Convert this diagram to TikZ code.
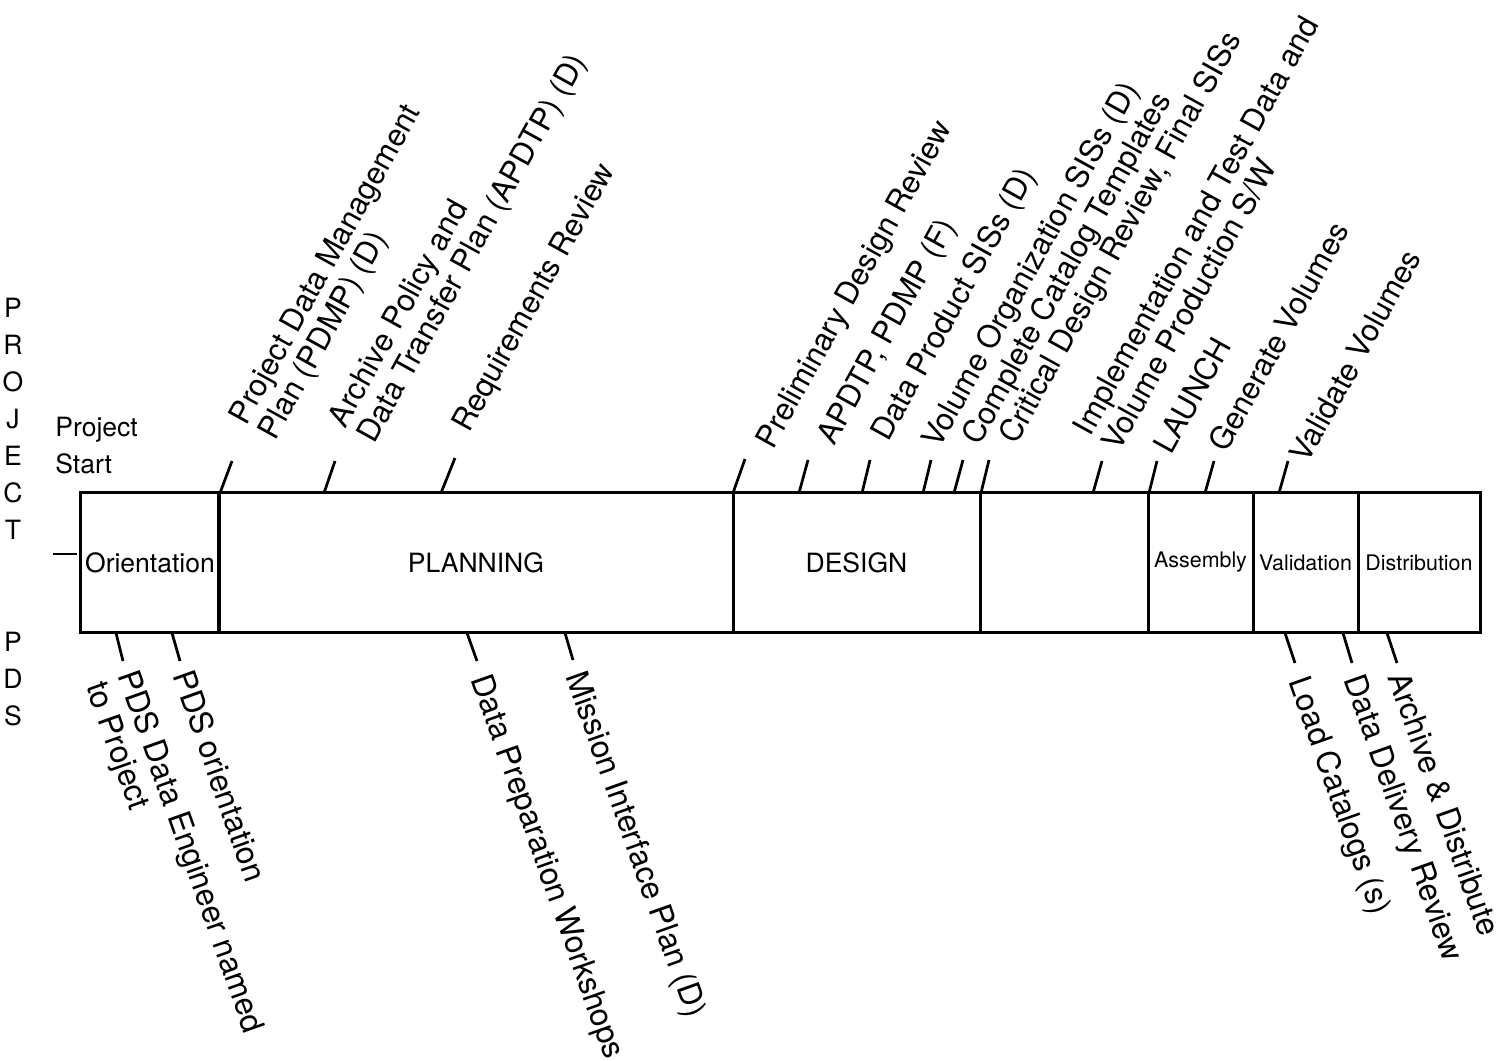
\documentclass[tikz,border=0pt]{standalone}
\usepackage{fontspec}
\setmainfont{TeX Gyre Heros}
\begin{document}
\begin{tikzpicture}[x=0.2mm, y=-0.2mm,
  phase/.style={shape=rectangle, draw=black, line width=0.6mm, inner sep=0pt, minimum height=27.8mm, font=\fontsize{15.1}{18}\selectfont},
  smallphase/.style={font=\fontsize{12.2}{14}\selectfont},
  tick/.style={line width=0.55mm},
  toplbl/.style={rotate=61, anchor=south west, inner sep=0pt, align=left, font=\fontsize{17.6}{18.5}\selectfont, execute at end node=\strut},
  botlbl/.style={rotate=-70.5, anchor=north west, inner sep=0pt, align=left, font=\fontsize{18}{19}\selectfont, execute at end node=\strut},
  side/.style={inner sep=0pt, font=\fontsize{15.1}{21}\selectfont}]
\useasboundingbox (0,0) rectangle (1508,1061);
% phases
\node[phase, minimum width=27.6mm] (orient) at (150,562.5) {Orientation};
\node[phase, minimum width=102.8mm] (plan) at (476,562.5) {PLANNING};
\node[phase, minimum width=49.4mm] (design) at (856.5,562.5) {DESIGN};
\node[phase, minimum width=33.6mm] (impl) at (1064,562.5) {};
\node[phase, smallphase, minimum width=21mm] (assembly) at (1200.5,562.5) {Assembly};
\node[phase, smallphase, minimum width=21mm] (valid) at (1305.5,562.5) {Validation};
\node[phase, smallphase, minimum width=24.4mm] (distr) at (1419,562.5) {Distribution};
% left side
\node[side, anchor=north, align=center] (proj) at (13,298) {P\\R\\O\\J\\E\\C\\T};
\node[side, anchor=north, align=center] (pds) at (13,632) {P\\D\\S};
\node[side, anchor=north west, align=left] (start) at (55,417) {Project\\Start};
\coordinate (s1) at (53,554);
\coordinate (s2) at (77,554);
\path [tick] (s1) edge (s2);
% project milestones
\coordinate (a1) at (220,493);
\coordinate (a1e) at (232,461);
\node[toplbl] (l1) at (284,447) {Project Data Management\\Plan (PDMP) (D)};
\coordinate (a2) at (324,493);
\coordinate (a2e) at (335,461);
\node[toplbl] (l2) at (383,450) {Archive Policy and\\Data Transfer Plan (APDTP) (D)};
\coordinate (a3) at (441,493);
\coordinate (a3e) at (455,458);
\node[toplbl] (l3) at (478,439) {Requirements Review};
\coordinate (a4) at (733,493);
\coordinate (a4e) at (745,459);
\node[toplbl] (l4) at (782,456) {Preliminary Design Review};
\coordinate (a5) at (799,493);
\coordinate (a5e) at (808,460);
\node[toplbl] (l5) at (843,452) {APDTP, PDMP (F)};
\coordinate (a6) at (862,493);
\coordinate (a6e) at (870,460);
\node[toplbl] (l6) at (897,448) {Data Product SISs (D)};
\coordinate (a7) at (923,493);
\coordinate (a7e) at (931,460);
\node[toplbl] (l7) at (948,455) {Volume Organization SISs (D)};
\coordinate (a8) at (954,493);
\coordinate (a8e) at (963,460);
\node[toplbl] (l8) at (988,452) {Complete Catalog Templates};
\coordinate (a9) at (981,493);
\coordinate (a9e) at (989,460);
\node[toplbl] (l9) at (1025,451) {Critical Design Review, Final SISs};
\coordinate (a10) at (1093,493);
\coordinate (a10e) at (1102,461);
\node[toplbl] (l10) at (1128,458) {Implementation and Test Data and\\Volume Production S/W};
\coordinate (a11) at (1149,493);
\coordinate (a11e) at (1157,461);
\node[toplbl] (l11) at (1180,461) {LAUNCH};
\coordinate (a12) at (1205,493);
\coordinate (a12e) at (1214,461);
\node[toplbl] (l12) at (1235,459) {Generate Volumes};
\coordinate (a13) at (1279,493);
\coordinate (a13e) at (1288,461);
\node[toplbl] (l13) at (1316,470) {Validate Volumes};
\path [tick] (a1) edge (a1e);
\path [tick] (a2) edge (a2e);
\path [tick] (a3) edge (a3e);
\path [tick] (a4) edge (a4e);
\path [tick] (a5) edge (a5e);
\path [tick] (a6) edge (a6e);
\path [tick] (a7) edge (a7e);
\path [tick] (a8) edge (a8e);
\path [tick] (a9) edge (a9e);
\path [tick] (a10) edge (a10e);
\path [tick] (a11) edge (a11e);
\path [tick] (a12) edge (a12e);
\path [tick] (a13) edge (a13e);
% PDS milestones
\coordinate (b1) at (116,633);
\coordinate (b1e) at (123,661);
\node[botlbl] (m1) at (140,667) {PDS Data Engineer named\\to Project};
\coordinate (b2) at (172,633);
\coordinate (b2e) at (180,661);
\node[botlbl] (m2) at (195,667) {PDS orientation};
\coordinate (b3) at (467,633);
\coordinate (b3e) at (477,661);
\node[botlbl] (m3) at (493,671) {Data Preparation Workshops};
\coordinate (b4) at (565,633);
\coordinate (b4e) at (573,660);
\node[botlbl] (m4) at (588,668) {Mission Interface Plan (D)};
\coordinate (b5) at (1285,633);
\coordinate (b5e) at (1295,663);
\node[botlbl] (m5) at (1311,673) {Load Catalogs (s)};
\coordinate (b6) at (1343,633);
\coordinate (b6e) at (1352,663);
\node[botlbl] (m6) at (1366,671) {Data Delivery Review};
\coordinate (b7) at (1387,633);
\coordinate (b7e) at (1397,663);
\node[botlbl] (m7) at (1410,669) {Archive \& Distribute};
\path [tick] (b1) edge (b1e);
\path [tick] (b2) edge (b2e);
\path [tick] (b3) edge (b3e);
\path [tick] (b4) edge (b4e);
\path [tick] (b5) edge (b5e);
\path [tick] (b6) edge (b6e);
\path [tick] (b7) edge (b7e);
\end{tikzpicture}
\end{document}
